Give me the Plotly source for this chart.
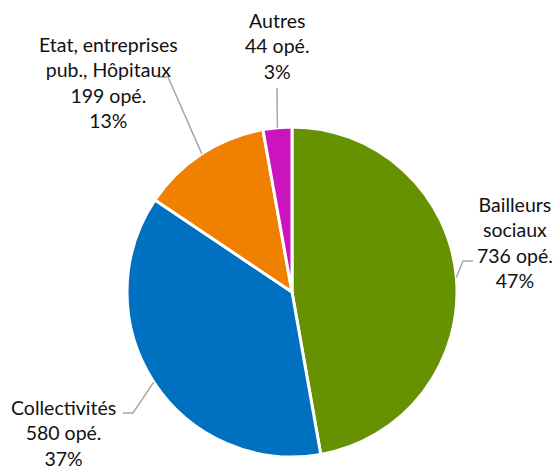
import math
import plotly.graph_objects as go

# ---- data ----
categories = ["Bailleurs sociaux", "Collectivités", "Etat, entreprises pub., Hôpitaux", "Autres"]
label_lines = [["Bailleurs", "sociaux"], ["Collectivités"], ["Etat, entreprises", "pub., Hôpitaux"], ["Autres"]]
operations = [736, 580, 199, 44]
colors = ["#669100", "#0070C0", "#F08000", "#CC14BE"]

W, H = 555, 471
CX, CY, R = 292, 292, 165  # pie center / radius in px

# label layout (px): text center, and elbow points of leader line (from pie edge outward)
label_layout = [
    dict(center=(515, 242), path=[(463, 261), (473, 261)]),
    dict(center=(63, 433), path=[(133, 413), (123, 413)]),
    dict(center=(108, 83), path=[(168, 77), (157, 77)]),
    dict(center=(277, 46), path=[(277, 88)]),
]

def px(x, y):
    return x / W, 1 - y / H

fig = go.Figure()
fig.add_trace(go.Pie(
    labels=categories, values=operations, sort=False, direction="clockwise",
    rotation=0, textinfo="none", hoverinfo="label+value+percent",
    marker=dict(colors=colors, line=dict(color="white", width=3)),
    domain=dict(x=[(CX - R) / W, (CX + R) / W], y=[(H - CY - R) / H, (H - CY + R) / H]),
))

total = sum(operations)
cum = 0
shapes, annotations = [], []
for i, v in enumerate(operations):
    mid = (cum + v / 2) / total
    cum += v
    ang = 2 * math.pi * mid
    ex, ey = CX + R * math.sin(ang), CY - R * math.cos(ang)
    pts = [(ex, ey)] + label_layout[i]["path"]
    path = "M " + " L ".join(f"{px(x, y)[0]:.5f},{px(x, y)[1]:.5f}" for x, y in pts)
    shapes.append(dict(type="path", path=path, xref="paper", yref="paper",
                       line=dict(color="#A6A6A6", width=1.5)))
    pct = round(100 * v / total)
    text = "<br>".join(label_lines[i] + [f"{v} opé.", f"{pct}%"])
    cx, cy = label_layout[i]["center"]
    ax, ay = px(cx, cy)
    annotations.append(dict(x=ax, y=ay, xref="paper", yref="paper", text=text,
                            showarrow=False, xanchor="center", yanchor="middle", align="center",
                            font=dict(family="Lato", size=19.5, color="#111111")))

fig.update_layout(
    width=W, height=H, margin=dict(l=0, r=0, t=0, b=0),
    paper_bgcolor="white", plot_bgcolor="white", showlegend=False,
    shapes=shapes, annotations=annotations,
)
fig.write_html("out.html", config={"displayModeBar": False},
               post_script="document.body.style.margin='0';document.body.style.overflow='hidden';")
